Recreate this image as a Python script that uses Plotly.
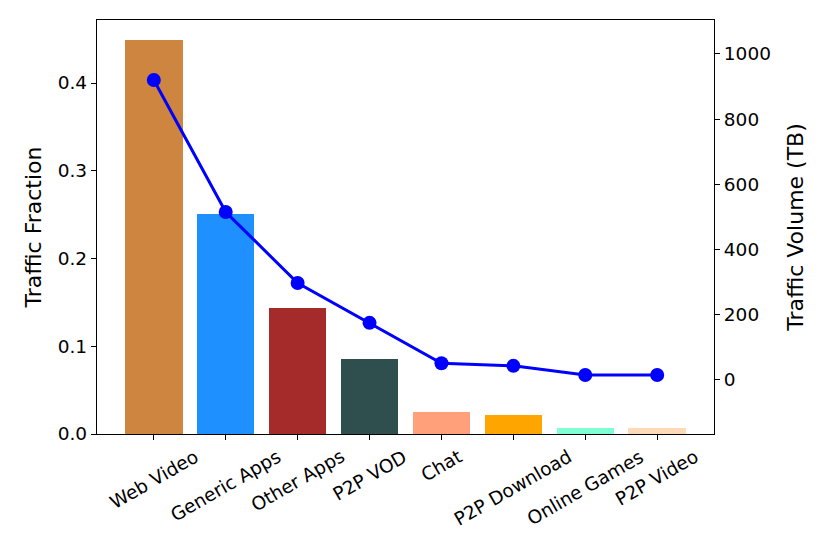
import plotly.graph_objects as go

categories = ['Web Video', 'Generic Apps', 'Other Apps', 'P2P VOD', 'Chat',
              'P2P Download', 'Online Games', 'P2P Video']
fraction = [0.449, 0.251, 0.144, 0.085, 0.025, 0.0215, 0.0068, 0.0068]
volume_tb = [920, 515, 297, 175, 51, 43, 15, 15]
bar_colors = ['#CD853F', '#1E90FF', '#A52A2A', '#2F4F4F', '#FFA07A',
              '#FFA500', '#7FFFD4', '#FFDAB9']

font = 'DejaVu Sans, sans-serif'
tick_font = dict(family=font, size=18.5, color='black')
title_font = dict(family=font, size=22, color='black')

fig = go.Figure()
fig.add_trace(go.Bar(x=categories, y=fraction, marker=dict(color=bar_colors, line=dict(width=0)),
                     width=0.8, showlegend=False))
fig.add_trace(go.Scatter(x=categories, y=volume_tb, yaxis='y2', mode='lines+markers',
                         line=dict(color='#0000FF', width=3),
                         marker=dict(color='#0000FF', size=14), showlegend=False))

# rotated, centred category labels (matplotlib style)
for c in categories:
    fig.add_annotation(x=c, y=-0.022, xref='x', yref='paper', text=c, showarrow=False,
                       textangle=-30, xanchor='center', yanchor='top', font=tick_font)

axis_style = dict(showline=True, linecolor='black', linewidth=1.3, ticks='outside',
                  ticklen=5, tickwidth=1.2, tickcolor='black', showgrid=False,
                  zeroline=False, tickfont=tick_font)

fig.update_layout(
    width=830, height=554,
    margin=dict(l=89, r=124, t=12, b=128),
    plot_bgcolor='white', paper_bgcolor='white',
    bargap=0,
    xaxis=dict(**axis_style, mirror=True, range=[-0.79, 7.79], showticklabels=False),
    yaxis=dict(**axis_style, range=[0, 0.4718], tickvals=[0, 0.1, 0.2, 0.3, 0.4],
               ticktext=['0.0', '0.1', '0.2', '0.3', '0.4'],
               title=dict(text='Traffic Fraction', font=title_font, standoff=10)),
    yaxis2=dict(**axis_style, overlaying='y', side='right', range=[-166, 1104],
                tickvals=[0, 200, 400, 600, 800, 1000],
                title=dict(text='Traffic Volume (TB)', font=title_font, standoff=17)),
)

fig.write_html('out.html')
